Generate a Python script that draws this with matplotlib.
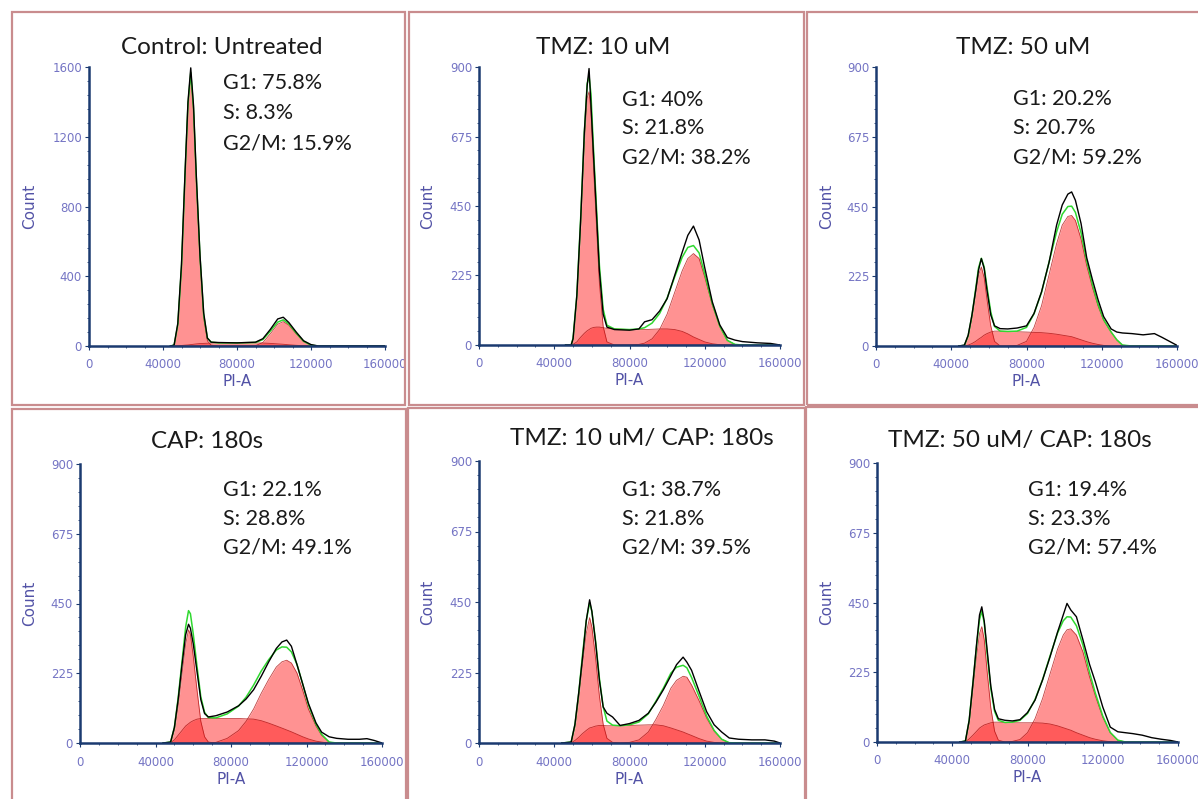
import numpy as np
import matplotlib
matplotlib.use("Agg")
import matplotlib.pyplot as plt
from matplotlib.patches import Rectangle
from matplotlib.ticker import FixedLocator, MultipleLocator, AutoMinorLocator
from matplotlib.transforms import Bbox, TransformedBbox

W, H = 1198, 799

# ---- data (PI-A, count) ----
titles = ["Control: Untreated", "TMZ: 10 uM", "TMZ: 50 uM",
          "CAP: 180s", "TMZ: 10 uM/ CAP: 180s", "TMZ: 50 uM/ CAP: 180s"]
stats = [["G1: 75.8%", "S: 8.3%", "G2/M: 15.9%"],
         ["G1: 40%", "S: 21.8%", "G2/M: 38.2%"],
         ["G1: 20.2%", "S: 20.7%", "G2/M: 59.2%"],
         ["G1: 22.1%", "S: 28.8%", "G2/M: 49.1%"],
         ["G1: 38.7%", "S: 21.8%", "G2/M: 39.5%"],
         ["G1: 19.4%", "S: 23.3%", "G2/M: 57.4%"]]
x_ticks = [0, 40000, 80000, 120000, 160000]
y_ticks_ctrl = [0, 400, 800, 1200, 1600]
y_ticks_other = [0, 225, 450, 675, 900]

ctrl_x = [44000, 46000, 48000, 50000, 52000, 53500, 55000, 56500, 58000, 60000, 62000, 64000,
          66000, 70000, 80000, 90000, 94000, 98000, 102000, 105000, 108000, 112000, 116000,
          120000, 124000, 160000]
ctrl_g1 = [0, 5, 120, 450, 1000, 1380, 1560, 1350, 950, 500, 160, 30,
           5, 0, 0, 0, 0, 0, 0, 0, 0, 0, 0, 0, 0, 0]
ctrl_s = [0, 0, 1, 3, 5, 6, 8, 10, 12, 14, 15, 16,
          17, 18, 18, 18, 17, 15, 12, 10, 7, 4, 2, 0, 0, 0]
ctrl_g2 = [0, 0, 0, 0, 0, 0, 0, 0, 0, 0, 0, 0,
           0, 0, 0, 2, 20, 70, 125, 140, 120, 70, 25, 5, 0, 0]
ctrl_raw = [0, 5, 130, 470, 1020, 1400, 1595, 1380, 980, 520, 190, 45,
            22, 20, 18, 22, 42, 95, 155, 165, 135, 80, 30, 8, 0, 0]

tmz10_x = [46000, 49000, 50000, 52000, 54000, 56000, 57500, 58500, 59500, 61000, 62500, 64000,
           66000, 68000, 72000, 80000, 85000, 88000, 92000, 96000, 100000, 104000, 108000,
           111000, 114000, 117000, 120000, 124000, 128000, 132000, 136000, 140000, 148000,
           155000, 160000]
tmz10_g1 = [0, 0, 20, 150, 380, 650, 800, 820, 760, 560, 380, 200,
            60, 10, 0, 0, 0, 0, 0, 0, 0, 0, 0,
            0, 0, 0, 0, 0, 0, 0, 0, 0, 0, 0, 0]
tmz10_s = [0, 0, 2, 10, 25, 38, 46, 50, 54, 57, 58, 58,
           56, 54, 52, 50, 50, 50, 51, 52, 52, 50, 44,
           36, 26, 18, 10, 4, 1, 0, 0, 0, 0, 0, 0]
tmz10_g2 = [0, 0, 0, 0, 0, 0, 0, 0, 0, 0, 0, 0,
            0, 0, 0, 0, 2, 6, 20, 50, 100, 170, 240,
            280, 296, 280, 220, 130, 60, 15, 2, 0, 0, 0, 0]
tmz10_raw = [0, 0, 20, 160, 400, 690, 840, 895, 780, 600, 420, 240,
             100, 58, 50, 48, 52, 75, 82, 110, 150, 225, 300,
             355, 385, 340, 250, 140, 65, 24, 16, 11, 7, 5, 0]

tmz50_x = [44000, 47000, 49000, 51000, 53000, 54500, 56000, 57500, 59000, 61000, 63000, 66000,
           70000, 75000, 80000, 84000, 88000, 92000, 96000, 99000, 102000, 104000, 106000,
           109000, 112000, 115000, 118000, 121000, 125000, 128000, 131000, 136000, 142000,
           148000, 152000, 156000, 160000]
tmz50_g1 = [0, 2, 30, 90, 170, 230, 255, 220, 150, 65, 15, 0,
            0, 0, 0, 0, 0, 0, 0, 0, 0, 0, 0,
            0, 0, 0, 0, 0, 0, 0, 0, 0, 0, 0, 0, 0, 0]
tmz50_s = [0, 0, 3, 8, 15, 22, 28, 35, 40, 45, 48, 48,
           47, 46, 45, 44, 43, 41, 38, 35, 32, 30, 26,
           20, 14, 9, 5, 2, 0, 0, 0, 0, 0, 0, 0, 0, 0]
tmz50_g2 = [0, 0, 0, 0, 0, 0, 0, 0, 0, 0, 0, 0,
            0, 2, 15, 60, 130, 230, 330, 390, 418, 421, 405,
            345, 260, 190, 130, 83, 45, 20, 3, 0, 0, 0, 0, 0, 0]
tmz50_raw = [0, 3, 35, 100, 180, 245, 282, 250, 180, 100, 65, 56,
             55, 58, 65, 105, 175, 270, 390, 455, 490, 497, 470,
             395, 285, 215, 150, 95, 55, 45, 42, 40, 36, 40, 28, 15, 2]

cap_x = [44000, 48000, 50000, 52000, 54000, 56000, 57500, 58500, 60000, 62000, 64000, 66000,
         68000, 72000, 78000, 84000, 88000, 92000, 96000, 100000, 104000, 107000, 109500,
         112000, 115000, 118000, 121000, 125000, 128000, 132000, 136000, 142000, 148000,
         152000, 156000, 160000]
cap_g1 = [0, 2, 40, 120, 220, 320, 365, 350, 280, 170, 70, 20,
          3, 0, 0, 0, 0, 0, 0, 0, 0, 0, 0,
          0, 0, 0, 0, 0, 0, 0, 0, 0, 0, 0, 0, 0]
cap_s = [0, 1, 10, 25, 40, 55, 62, 67, 72, 77, 79, 79,
         79, 79, 79, 79, 78, 77, 72, 64, 55, 48, 42,
         36, 28, 20, 13, 6, 3, 0, 0, 0, 0, 0, 0, 0]
cap_g2 = [0, 0, 0, 0, 0, 0, 0, 0, 0, 0, 0, 0,
          0, 2, 15, 40, 70, 110, 160, 205, 245, 262, 267,
          258, 225, 170, 110, 55, 25, 3, 0, 0, 0, 0, 0, 0]
cap_raw = [0, 3, 50, 140, 250, 350, 383, 370, 320, 230, 140, 95,
           84, 88, 100, 120, 142, 172, 215, 262, 305, 326, 332,
           312, 252, 190, 128, 65, 35, 20, 15, 12, 12, 14, 8, 0]

t10c_x = [44000, 49000, 51000, 53000, 55000, 57000, 58800, 60000, 62000, 64000, 66000, 68000,
          71000, 75000, 80000, 85000, 90000, 94000, 98000, 102000, 105000, 108500, 110500,
          113000, 117000, 121000, 125000, 129000, 133000, 138000, 145000, 152000, 157000,
          160000]
t10c_g1 = [0, 2, 50, 140, 250, 350, 400, 370, 270, 150, 60, 15,
           2, 0, 0, 0, 0, 0, 0, 0, 0, 0, 0,
           0, 0, 0, 0, 0, 0, 0, 0, 0, 0, 0]
t10c_s = [0, 1, 8, 18, 30, 40, 48, 50, 54, 56, 56, 55,
          55, 55, 56, 57, 58, 58, 55, 48, 42, 35, 30,
          24, 14, 6, 2, 0, 0, 0, 0, 0, 0, 0]
t10c_g2 = [0, 0, 0, 0, 0, 0, 0, 0, 0, 0, 0, 0,
           0, 0, 2, 10, 35, 75, 120, 175, 200, 213, 210,
           185, 135, 80, 38, 12, 1, 0, 0, 0, 0, 0]
t10c_raw = [0, 3, 60, 160, 270, 390, 457, 420, 320, 200, 115, 95,
            83, 56, 62, 72, 95, 130, 170, 215, 250, 274, 258,
            232, 165, 100, 58, 35, 16, 12, 10, 10, 6, 0]

t50c_x = [44000, 47000, 49000, 51000, 53000, 54500, 55700, 57000, 58500, 60500, 62500, 64500,
          68000, 72000, 76000, 80000, 84000, 88000, 92000, 96000, 99000, 101000, 103000,
          106000, 109500, 113000, 116000, 120000, 124000, 128000, 132000, 136000, 141000,
          146000, 151000, 156000, 160000]
t50c_g1 = [0, 2, 60, 170, 280, 350, 372, 330, 230, 110, 35, 6,
           0, 0, 0, 0, 0, 0, 0, 0, 0, 0, 0,
           0, 0, 0, 0, 0, 0, 0, 0, 0, 0, 0, 0, 0, 0]
t50c_s = [0, 1, 10, 22, 35, 45, 50, 55, 58, 62, 64, 64,
          63, 62, 62, 62, 62, 61, 58, 52, 46, 42, 38,
          30, 22, 14, 9, 4, 1, 0, 0, 0, 0, 0, 0, 0, 0]
t50c_g2 = [0, 0, 0, 0, 0, 0, 0, 0, 0, 0, 0, 0,
           0, 2, 8, 30, 75, 140, 220, 300, 345, 362, 365,
           345, 290, 210, 150, 80, 30, 6, 0, 0, 0, 0, 0, 0, 0]
t50c_raw = [0, 3, 70, 190, 320, 410, 436, 390, 300, 180, 105, 75,
            70, 68, 72, 95, 135, 200, 275, 355, 410, 447, 426,
            404, 329, 250, 195, 113, 48, 33, 30, 27, 22, 14, 9, 5, 0]

panels = [
    (ctrl_x, ctrl_g1, ctrl_s, ctrl_g2, ctrl_raw),
    (tmz10_x, tmz10_g1, tmz10_s, tmz10_g2, tmz10_raw),
    (tmz50_x, tmz50_g1, tmz50_s, tmz50_g2, tmz50_raw),
    (cap_x, cap_g1, cap_s, cap_g2, cap_raw),
    (t10c_x, t10c_g1, t10c_s, t10c_g2, t10c_raw),
    (t50c_x, t50c_g1, t50c_s, t50c_g2, t50c_raw),
]

# ---- layout in pixels (left, right, bottom y, top y) ----
axes_px = [(89, 385, 346, 67), (479, 780, 345, 67), (876, 1177, 346, 67),
           (80, 382, 743, 464), (479, 780, 743, 461), (877, 1178, 742, 463)]
boxes_px = [(12, 405, 12, 405), (409, 804, 12, 405), (807, 1210, 12, 405),
            (12, 406, 409, 812), (408, 805, 408, 812), (806, 1210, 407, 812)]
title_px = [(222, 47), (603, 47), (1023, 47), (207, 441), (642, 439), (1020, 441)]
stat_px = [(223, 83, 30), (622, 100, 28.5), (1013, 99, 29),
           (223, 490, 29), (622, 490, 29), (1028, 490, 29)]
count_dx = [59, 51, 49, 50, 51, 50]

navy = "#1b3a70"
tick_blue = "#7474c4"
label_blue = "#5252a6"
red = (1.0, 0.15, 0.15)

fig = plt.figure(figsize=(W / 100, H / 100), dpi=100)
fig.patch.set_facecolor("white")


def fx(px):
    return px / W


def fy(py):
    return 1 - py / H


for i, (x, g1, s, g2, raw) in enumerate(panels):
    bx0, bx1, by0, by1 = boxes_px[i]
    fig.patches.append(Rectangle((fx(bx0), fy(by1)), fx(bx1) - fx(bx0), fy(by0) - fy(by1),
                                 transform=fig.transFigure, fill=False,
                                 edgecolor="#c98c8e", lw=1.6))
    clip = TransformedBbox(Bbox.from_extents(fx(bx0) + 0.001, fy(by1), fx(bx1) - 0.001, fy(by0)),
                           fig.transFigure)

    l, r, b, t = axes_px[i]
    ax = fig.add_axes([fx(l), fy(b), fx(r) - fx(l), fy(t) - fy(b)])
    x = np.array(x)
    g1, s, g2, raw = map(np.array, (g1, s, g2, raw))
    fit = g1 + s + g2

    for comp in (g1, s, g2):
        ax.fill_between(x, 0, comp, color=red, alpha=0.5, lw=0)
        ax.plot(x, comp, color="#b01010", lw=0.6, alpha=0.8)
    ax.plot(x, fit, color="#2fd82f", lw=1.1)
    ax.plot(x, raw, color="black", lw=1.0)

    ymax = 1600 if i == 0 else 900
    ax.set_xlim(0, 160000)
    ax.set_ylim(0, ymax)
    for sp in ("top", "right"):
        ax.spines[sp].set_visible(False)
    for sp in ("left", "bottom"):
        ax.spines[sp].set_color(navy)
        ax.spines[sp].set_linewidth(1.8)

    ax.xaxis.set_major_locator(FixedLocator(x_ticks))
    ax.xaxis.set_minor_locator(MultipleLocator(10000))
    ax.yaxis.set_major_locator(FixedLocator(y_ticks_ctrl if i == 0 else y_ticks_other))
    ax.yaxis.set_minor_locator(AutoMinorLocator(5))
    ax.set_xticklabels([str(v) for v in x_ticks])
    ax.tick_params(which="major", direction="out", length=3, width=0.8, color=navy,
                   labelsize=8.5, labelcolor=tick_blue)
    ax.tick_params(axis="x", which="major", pad=6)
    ax.tick_params(axis="y", which="major", pad=2)
    ax.tick_params(which="minor", direction="out", length=1.6, width=0.6, color=navy)
    for tk in ax.xaxis.get_major_ticks():
        tk.label1.set_clip_box(clip)
        tk.label1.set_clip_on(True)

    ax.set_xlabel("PI-A", color=label_blue, fontsize=11)
    ax.set_ylabel("Count", color=label_blue, fontsize=11)
    ax.xaxis.set_label_coords(0.5, -36 / (b - t))
    ax.yaxis.set_label_coords(-count_dx[i] / (r - l), 0.5)
    ax.xaxis.label.set_va("center")
    ax.yaxis.label.set_va("center")
    ax.patch.set_alpha(0)

    tx, ty = title_px[i]
    fig.text(fx(tx), fy(ty), titles[i], ha="center", va="center",
             fontsize=17.5, family="Lato", color="#1a1a1a")
    sx, sy, dy = stat_px[i]
    for k, line in enumerate(stats[i]):
        fig.text(fx(sx), fy(sy + k * dy), line, ha="left", va="center",
                 fontsize=15.5, family="Lato", color="#1a1a1a")

fig.savefig("out.png", dpi=100, facecolor="white")
